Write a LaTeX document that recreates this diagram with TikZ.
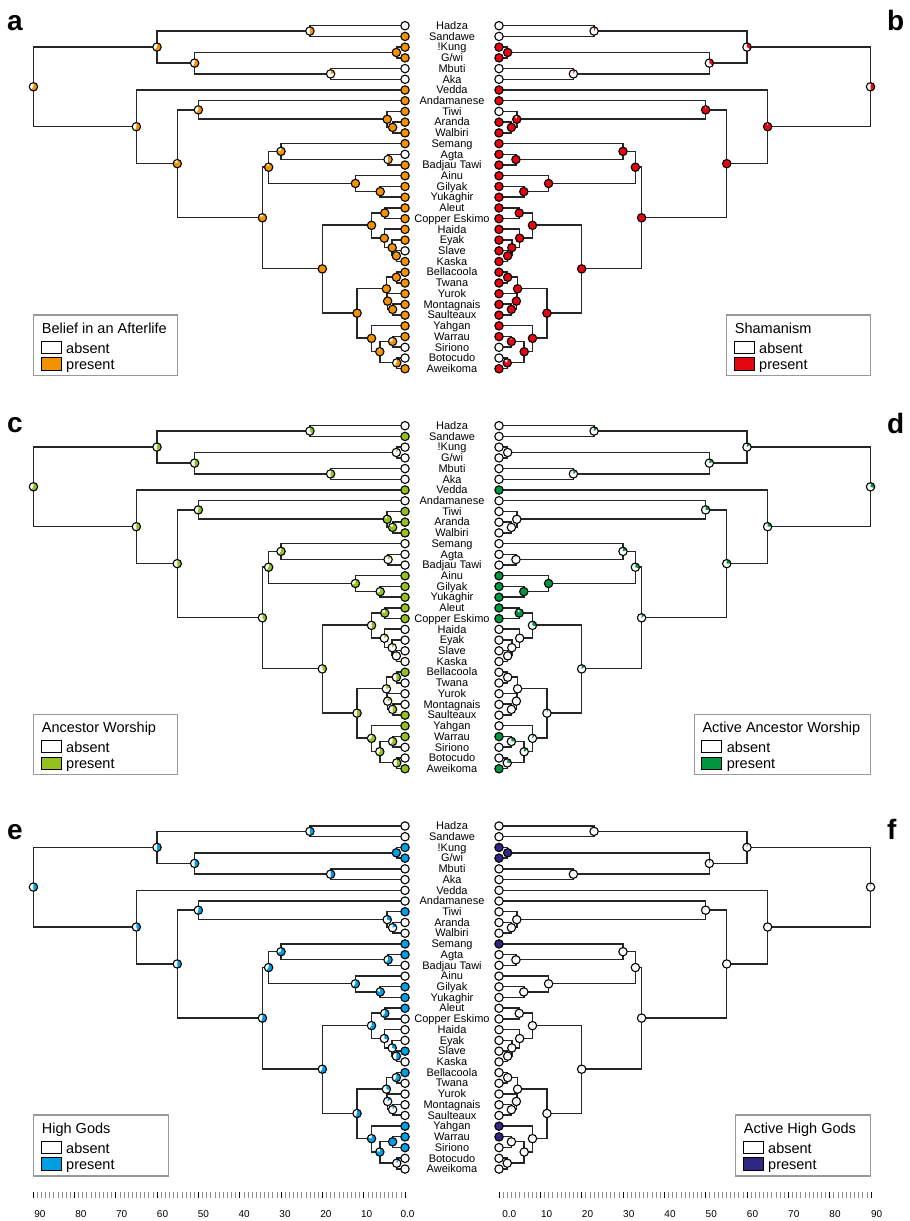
\documentclass[tikz,border=0pt]{standalone}
\usepackage{fontspec}
\setmainfont{Liberation Sans}
\usetikzlibrary{calc}

\definecolor{afterlife}{HTML}{F39200}
\definecolor{shaman}{HTML}{E30613}
\definecolor{ancestor}{HTML}{95C11F}
\definecolor{activeanc}{HTML}{009640}
\definecolor{highgod}{HTML}{009FE3}
\definecolor{activegod}{HTML}{312783}

\tikzset{
  branch/.style={draw=black!85, line width=1.5pt},
  pieedge/.style={draw=black, line width=1.1pt},
  taxon/.style={font=\fontsize{11}{13}\selectfont, anchor=base, inner sep=0pt, yshift=-3.7pt},
  letter/.style={font=\fontsize{28}{30}\selectfont\bfseries, anchor=base west, inner sep=0pt},
  legendframe/.style={draw=black!40, line width=1.1pt},
  legendtitle/.style={font=\fontsize{14.5}{16}\selectfont, anchor=base west, inner sep=0pt},
  legendtext/.style={font=\fontsize{14.5}{16}\selectfont, anchor=base west, inner sep=0pt},
  swatch/.style={draw=black, line width=1pt},
  minortick/.style={draw=black!45, line width=0.6pt},
  majortick/.style={draw=black, line width=0.7pt},
  scalelabel/.style={font=\fontsize{10}{12}\selectfont, anchor=base, inner sep=0pt}
}

\newcommand{\pierad}{4.2pt}
\newcommand{\taxa}{Hadza,Sandawe,!Kung,{G/wi},Mbuti,Aka,Vedda,Andamanese,Tiwi,Aranda,Walbiri,Semang,Agta,Badjau Tawi,Ainu,Gilyak,Yukaghir,Aleut,Copper Eskimo,Haida,Eyak,Slave,Kaska,Bellacoola,Twana,Yurok,Montagnais,Saulteaux,Yahgan,Warrau,Siriono,Botocudo,Aweikoma}

% pie at a node: #1 coordinate, #2 share present, #3 colour
\newcommand{\piechart}[3]{%
  \fill[white] (#1) circle[radius=\pierad];
  \fill[#3] (#1) -- ++(90:\pierad) arc[start angle=90, delta angle=-360*#2, radius=\pierad] -- cycle;
  \draw[pieedge] (#1) circle[radius=\pierad];}

% one clade: #1 prefix, #2 name, #3 age, #4 and #5 children
\newcommand{\clade}[5]{%
  \coordinate (#1#2m) at ($(#1#4)!.5!(#1#5)$);
  \coordinate (#1#2) at (#3,0 |- #1#2m);
  \draw[branch] (#1#4) -| (#1#2) |- (#1#5);}

\newcommand{\clades}[1]{%
  \clade{#1}{n1}{23}{t0}{t1}
  \clade{#1}{n2}{2.1}{t2}{t3}
  \clade{#1}{n3}{18}{t4}{t5}
  \clade{#1}{n4}{50.9}{n2}{n3}
  \clade{#1}{n5}{60}{n1}{n4}
  \clade{#1}{n8}{3}{t9}{t10}
  \clade{#1}{n9}{4.3}{t8}{n8}
  \clade{#1}{n10}{50}{t7}{n9}
  \clade{#1}{n12}{4.1}{t12}{t13}
  \clade{#1}{n13}{30}{t11}{n12}
  \clade{#1}{n14}{6}{t15}{t16}
  \clade{#1}{n15}{12}{t14}{n14}
  \clade{#1}{n16}{33}{n13}{n15}
  \clade{#1}{n17}{4.9}{t17}{t18}
  \clade{#1}{n18}{2.1}{t21}{t22}
  \clade{#1}{n19}{3.1}{t20}{n18}
  \clade{#1}{n20}{5}{t19}{n19}
  \clade{#1}{n21}{8.1}{n17}{n20}
  \clade{#1}{n22}{2.1}{t23}{t24}
  \clade{#1}{n23}{3}{t26}{t27}
  \clade{#1}{n24}{4.2}{t25}{n23}
  \clade{#1}{n25}{4.5}{n22}{n24}
  \clade{#1}{n26}{3}{t29}{t30}
  \clade{#1}{n27}{2}{t31}{t32}
  \clade{#1}{n28}{6.1}{n26}{n27}
  \clade{#1}{n29}{8.1}{t28}{n28}
  \clade{#1}{n30}{11.6}{n25}{n29}
  \clade{#1}{n31}{20}{n21}{n30}
  \clade{#1}{n32}{34.5}{n16}{n31}
  \clade{#1}{n11}{55.1}{n10}{n32}
  \clade{#1}{n7}{65}{t6}{n11}
  \clade{#1}{n6}{89.9}{n5}{n7}}

% tree: #1 prefix, #2 tip x, #3 x per Myr, #4 top tip y
\newcommand{\tree}[4]{%
  \begin{scope}[shift={(#2,-#4)}, xscale=#3, yscale=-10.72]
    \foreach \i in {0,...,32} \coordinate (#1t\i) at (0,\i);
    \clades{#1}
  \end{scope}}

% legend: #1 prefix, #2 left, #3 top, #4 right, #5 bottom, #6 title, #7 colour
\newcommand{\legendbox}[7]{%
  \draw[legendframe] (#2,-#3) rectangle (#4,-#5);
  \node[legendtitle] (#1title) at ({#2+8},{-#3-18.3}) {#6};
  \draw[swatch, fill=white] ({#2+7.3},{-#3-26.3}) rectangle ++(20.3,-12);
  \draw[swatch, fill=#7] ({#2+7.3},{-#3-42.7}) rectangle ++(20.3,-12.3);
  \node[legendtext] (#1absent) at ({#2+32.3},{-#3-38.3}) {absent};
  \node[legendtext] (#1present) at ({#2+32.3},{-#3-54}) {present};}

\begin{document}
\begin{tikzpicture}[x=1pt, y=1pt]
  \useasboundingbox (0,0) rectangle (910,-1221);

  % trees
  \tree{a}{405}{-4.133}{25.7}
  \tree{b}{499}{4.133}{25.7}
  \tree{c}{405}{-4.133}{425.7}
  \tree{d}{499}{4.133}{425.7}
  \tree{e}{405}{-4.133}{826}
  \tree{f}{499}{4.133}{826}

  % taxon names
  \foreach \name [count=\i from 0] in \taxa \node[taxon] (alab\i) at (452,0 |- at\i) {\name};
  \foreach \name [count=\i from 0] in \taxa \node[taxon] (clab\i) at (452,0 |- ct\i) {\name};
  \foreach \name [count=\i from 0] in \taxa \node[taxon] (elab\i) at (452,0 |- et\i) {\name};

  % a: belief in an afterlife
  \foreach \n/\f in {n1/.5,n2/1,n3/.22,n4/.55,n5/.6,n6/.6,n7/.55,n8/1,n9/1,n10/.6,n11/.85,n12/.5,n13/.8,n14/1,n15/1,n16/.9,n17/1,n18/.95,n19/1,n20/1,n21/1,n22/1,n23/1,n24/1,n25/1,n26/.75,n27/.6,n28/.95,n29/1,n30/1,n31/1,n32/.85} \piechart{a\n}{\f}{afterlife};
  \foreach \s [count=\i from 0] in {0,1,1,1,0,0,1,1,1,1,1,1,0,1,1,1,1,1,1,1,1,0,1,1,1,1,1,1,1,1,0,0,1} \piechart{at\i}{\s}{afterlife};

  % b: shamanism
  \foreach \n/\f in {n1/.08,n2/1,n3/.08,n4/.35,n5/.35,n6/.5,n7/.95,n8/1,n9/.9,n10/.95,n11/1,n12/1,n13/1,n14/1,n15/1,n16/1,n17/1,n18/1,n19/1,n20/1,n21/1,n22/1,n23/1,n24/1,n25/1,n26/.95,n27/.85,n28/1,n29/1,n30/1,n31/1,n32/1} \piechart{b\n}{\f}{shaman};
  \foreach \s [count=\i from 0] in {0,0,1,1,0,0,1,1,0,1,1,1,1,1,1,1,1,1,1,1,1,1,1,1,1,1,1,1,1,1,0,0,1} \piechart{bt\i}{\s}{shaman};

  % c: ancestor worship
  \foreach \n/\f in {n1/.4,n2/.1,n3/.5,n4/.5,n5/.5,n6/.6,n7/.5,n8/.85,n9/.85,n10/.55,n11/.5,n12/.15,n13/.6,n14/.7,n15/.7,n16/.6,n17/.8,n18/.05,n19/.1,n20/.15,n21/.5,n22/.5,n23/.5,n24/.2,n25/.2,n26/.6,n27/.5,n28/.6,n29/.7,n30/.5,n31/.4,n32/.4} \piechart{c\n}{\f}{ancestor};
  \foreach \s [count=\i from 0] in {0,1,0,0,0,0,1,0,1,1,1,0,0,0,1,1,1,1,1,0,0,0,0,1,0,0,0,1,1,1,0,0,1} \piechart{ct\i}{\s}{ancestor};

  % d: active ancestor worship
  \foreach \n/\f in {n1/.15,n2/0,n3/.15,n4/.2,n5/.15,n6/.3,n7/.25,n8/0,n9/0,n10/.25,n11/.25,n12/0,n13/.2,n14/1,n15/1,n16/.3,n17/.9,n18/0,n19/0,n20/0,n21/.3,n22/0,n23/0,n24/0,n25/0,n26/.25,n27/.25,n28/.15,n29/.1,n30/.05,n31/.15,n32/.15} \piechart{d\n}{\f}{activeanc};
  \foreach \s [count=\i from 0] in {0,0,0,0,0,0,1,0,0,0,0,0,0,0,1,1,1,1,1,0,0,0,0,0,0,0,0,0,0,1,0,0,1} \piechart{dt\i}{\s}{activeanc};

  % e: high gods
  \foreach \n/\f in {n1/.5,n2/1,n3/.5,n4/.5,n5/.5,n6/.5,n7/.45,n8/.2,n9/.3,n10/.55,n11/.5,n12/.6,n13/.7,n14/.8,n15/.6,n16/.6,n17/.6,n18/.5,n19/.3,n20/.3,n21/.6,n22/.6,n23/.1,n24/.15,n25/.3,n26/1,n27/.1,n28/.8,n29/.8,n30/.55,n31/.6,n32/.55} \piechart{e\n}{\f}{highgod};
  \foreach \s [count=\i from 0] in {0,0,1,1,0,0,0,0,1,0,0,1,1,0,0,1,1,1,0,0,0,1,0,1,0,0,0,0,1,1,1,0,0} \piechart{et\i}{\s}{highgod};

  % f: active high gods
  \foreach \n/\f in {n1/0,n2/1,n3/0,n4/.05,n5/.03,n6/.04,n7/0,n8/0,n9/0,n10/0,n11/0,n12/0,n13/0,n14/0,n15/0,n16/0,n17/0,n18/0,n19/0,n20/0,n21/0,n22/0,n23/0,n24/0,n25/0,n26/0,n27/0,n28/0,n29/0,n30/0,n31/0,n32/0} \piechart{f\n}{\f}{activegod};
  \foreach \s [count=\i from 0] in {0,0,1,1,0,0,0,0,0,0,0,1,0,0,0,0,0,0,0,0,0,0,0,0,0,0,0,0,1,1,0,0,0} \piechart{ft\i}{\s}{activegod};

  % panel letters
  \node[letter] (la) at (7,-30.5) {a};
  \node[letter] (lb) at (887,-30.7) {b};
  \node[letter] (lc) at (7,-432.7) {c};
  \node[letter] (ld) at (887,-433) {d};
  \node[letter] (le) at (7,-839) {e};
  \node[letter] (lf) at (887,-839.3) {f};

  % legends
  \legendbox{a}{33.7}{315}{177.7}{375.3}{Belief in an Afterlife}{afterlife}
  \legendbox{b}{726.7}{315}{870.7}{375.7}{Shamanism}{shaman}
  \legendbox{c}{33.7}{714.3}{177.7}{774.3}{Ancestor Worship}{ancestor}
  \legendbox{d}{694.3}{714.3}{870.7}{774.7}{Active Ancestor Worship}{activeanc}
  \legendbox{e}{33.7}{1115}{168.3}{1176}{High Gods}{highgod}
  \legendbox{f}{735.7}{1115}{870.7}{1176}{Active High Gods}{activegod}

  % time scales
  \foreach \k in {0,...,90} \draw[minortick] ({405-4.133*\k},-1192) -- ++(0,-5.5);
  \foreach \k in {0,...,90} \draw[minortick] ({499+4.133*\k},-1192) -- ++(0,-5.5);
  \foreach \k in {0,10,...,90} \draw[majortick] ({405-4.133*\k},-1192) -- ++(0,-5.5);
  \foreach \k in {0,10,...,90} \draw[majortick] ({499+4.133*\k},-1192) -- ++(0,-5.5);
  \foreach \v/\x in {0.0/407.5,10/366.7,20/325.9,30/285,40/244.2,50/203.4,60/162.5,70/121.7,80/80.9,90/40}
    \node[scalelabel] (sl\v) at (\x,-1217.3) {\v};
  \foreach \v/\x in {0.0/509.2,10/546.7,20/587.5,30/628.8,40/670,50/711.3,60/752.5,70/793.8,80/835,90/876.7}
    \node[scalelabel] (sr\v) at (\x,-1217.3) {\v};
\end{tikzpicture}
\end{document}
